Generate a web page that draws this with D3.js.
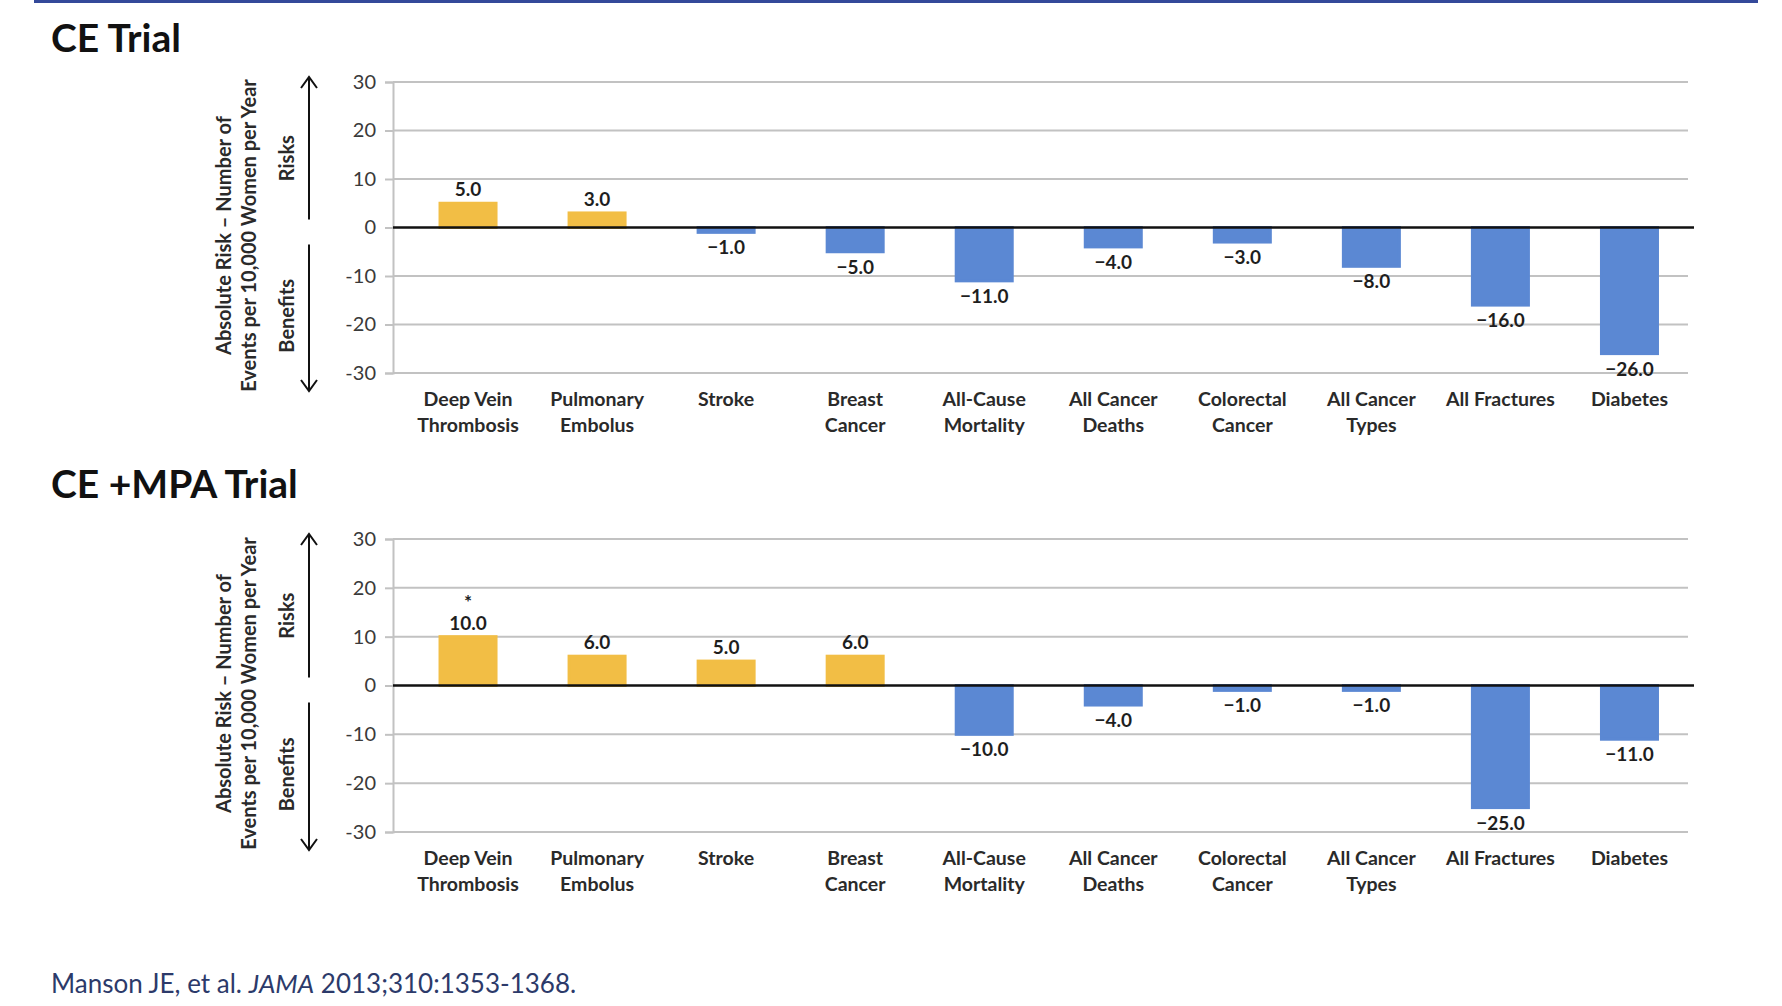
<!DOCTYPE html>
<html lang="en">
<head>
    <meta charset="UTF-8">
    <title>CE and CE+MPA Trial Absolute Risk</title>
    <style>
        body { margin: 0; background: #fff; }
        text { font-family: Lato, "Open Sans", sans-serif; }
        .grid line { stroke: #c2c2c2; stroke-width: 2px; }
        .ytick text { font-size: 20px; fill: #3a3a3a; }
        .cat { font-size: 19.5px; font-weight: 700; fill: #2a2a2a; }
        .val { font-size: 19px; font-weight: 700; fill: #1e1e1e; }
        .title { font-size: 39px; font-weight: 700; fill: #111; }
        .ytitle { font-size: 20px; font-weight: 700; fill: #2a2a2a; }
    </style>
</head>
<body>
    <svg width="1782" height="1006"></svg>
    <script src="https://d3js.org/d3.v7.min.js"></script>
    <script>
        // categories, two lines split by "|"
        const categories = [
            "Deep Vein|Thrombosis", "Pulmonary|Embolus", "Stroke", "Breast|Cancer",
            "All-Cause|Mortality", "All Cancer|Deaths", "Colorectal|Cancer",
            "All Cancer|Types", "All Fractures", "Diabetes"
        ];
        const ceValues = [5, 3, -1, -5, -11, -4, -3, -8, -16, -26];
        const cempaValues = [10, 6, 5, 6, -10, -4, -1, -1, -25, -11];
        const cempaStars = ["Deep Vein|Thrombosis"];
        const yTicks = [30, 20, 10, 0, -10, -20, -30];

        const riskColor = "#f2be45";
        const benefitColor = "#5b88d3";

        const svg = d3.select("svg");

        // top rule of the slide
        svg.append("rect")
            .attr("x", 34).attr("y", 0)
            .attr("width", 1724).attr("height", 3)
            .attr("fill", "#34499a");

        const x = d3.scaleBand()
            .domain(categories)
            .range([403.5, 1694])
            .paddingInner(0.566)
            .paddingOuter(0.283);

        const plotLeft = 393, plotRight = 1688;

        function drawPanel(title, titleY, values, stars, top, bottom) {
            const y = d3.scaleLinear().domain([-30, 30]).range([bottom, top]);
            const g = svg.append("g");

            g.append("text")
                .attr("class", "title")
                .attr("x", 51).attr("y", titleY)
                .text(title);

            // gridlines
            g.append("g").attr("class", "grid")
                .selectAll("line")
                .data(yTicks.filter(d => d !== 0))
                .enter().append("line")
                .attr("x1", plotLeft).attr("x2", plotRight)
                .attr("y1", d => y(d)).attr("y2", d => y(d));

            // y axis
            const axis = g.append("g")
                .attr("class", "ytick")
                .attr("transform", `translate(${plotLeft},0)`)
                .call(d3.axisLeft(y).tickValues(yTicks).tickSize(8).tickPadding(9).tickFormat(d => String(d)));
            axis.select(".domain").attr("stroke", "#c2c2c2").attr("stroke-width", 2);
            axis.selectAll(".tick line").attr("stroke", "#c2c2c2").attr("stroke-width", 2);

            // bars
            const rows = categories.map((c, i) => ({ cat: c, v: values[i] }));
            g.selectAll(".bar")
                .data(rows)
                .enter().append("rect")
                .attr("x", d => x(d.cat))
                .attr("width", x.bandwidth())
                .attr("y", d => y(Math.max(0, d.v)))
                .attr("height", d => Math.abs(y(d.v) - y(0)))
                .attr("fill", d => d.v >= 0 ? riskColor : benefitColor)
                .attr("stroke", d => d.v >= 0 ? riskColor : benefitColor)
                .attr("stroke-width", 3);

            // zero line
            g.append("line")
                .attr("x1", plotLeft).attr("x2", plotRight + 6)
                .attr("y1", y(0)).attr("y2", y(0))
                .attr("stroke", "#111").attr("stroke-width", 2.5);

            // value labels
            g.selectAll(".val")
                .data(rows)
                .enter().append("text")
                .attr("class", "val")
                .attr("text-anchor", "middle")
                .attr("x", d => x(d.cat) + x.bandwidth() / 2)
                .attr("y", d => d.v >= 0 ? y(d.v) - 7 : y(d.v) + 22)
                .text(d => (d.v < 0 ? "\u2212" : "") + Math.abs(d.v).toFixed(1));

            g.selectAll(".star")
                .data(rows.filter(d => stars.includes(d.cat)))
                .enter().append("text")
                .attr("class", "val")
                .attr("text-anchor", "middle")
                .attr("x", d => x(d.cat) + x.bandwidth() / 2)
                .attr("y", d => y(d.v) - 28)
                .text("*");

            // category labels
            const cat = g.selectAll(".cat")
                .data(categories)
                .enter().append("text")
                .attr("class", "cat")
                .attr("text-anchor", "middle")
                .attr("x", d => x(d) + x.bandwidth() / 2)
                .attr("y", bottom + 33);
            cat.selectAll("tspan")
                .data(d => d.split("|"))
                .enter().append("tspan")
                .attr("x", function () { return d3.select(this.parentNode).attr("x"); })
                .attr("dy", (d, i) => i === 0 ? 0 : 26)
                .text(d => d);

            // y axis title
            const midY = (top + bottom) / 2 + 8;
            const t = g.append("text")
                .attr("class", "ytitle")
                .attr("text-anchor", "middle")
                .attr("transform", `translate(231,${midY}) rotate(-90)`);
            t.append("tspan").attr("x", 0).attr("dy", 0).text("Absolute Risk \u2013 Number of");
            t.append("tspan").attr("x", 0).attr("dy", 25).text("Events per 10,000 Women per Year");

            // risks / benefits arrows
            const ax = 309;
            const upTop = top - 5, upBot = y(0) - 8;
            const dnTop = y(0) + 17, dnBot = bottom + 18;
            g.append("line").attr("x1", ax).attr("x2", ax).attr("y1", upTop).attr("y2", upBot)
                .attr("stroke", "#111").attr("stroke-width", 2);
            g.append("path").attr("d", `M${ax - 8},${upTop + 11}L${ax},${upTop}L${ax + 8},${upTop + 11}`)
                .attr("fill", "none").attr("stroke", "#111").attr("stroke-width", 2);
            g.append("line").attr("x1", ax).attr("x2", ax).attr("y1", dnTop).attr("y2", dnBot)
                .attr("stroke", "#111").attr("stroke-width", 2);
            g.append("path").attr("d", `M${ax - 8},${dnBot - 11}L${ax},${dnBot}L${ax + 8},${dnBot - 11}`)
                .attr("fill", "none").attr("stroke", "#111").attr("stroke-width", 2);

            g.append("text").attr("class", "ytitle").attr("text-anchor", "middle")
                .attr("transform", `translate(294,${y(14.3)}) rotate(-90)`)
                .text("Risks");
            g.append("text").attr("class", "ytitle").attr("text-anchor", "middle")
                .attr("transform", `translate(294,${y(-18.2)}) rotate(-90)`)
                .text("Benefits");
        }

        drawPanel("CE Trial", 52, ceValues, [], 82, 373);
        drawPanel("CE +MPA Trial", 498, cempaValues, cempaStars, 539, 832);

        // source note
        const src = svg.append("text")
            .attr("x", 51).attr("y", 993)
            .attr("font-size", 26)
            .attr("fill", "#2c3a6a");
        src.append("tspan").text("Manson JE, et al. ");
        src.append("tspan").attr("font-style", "italic").text("JAMA");
        src.append("tspan").text(" 2013;310:1353-1368.");
    </script>
</body>
</html>
